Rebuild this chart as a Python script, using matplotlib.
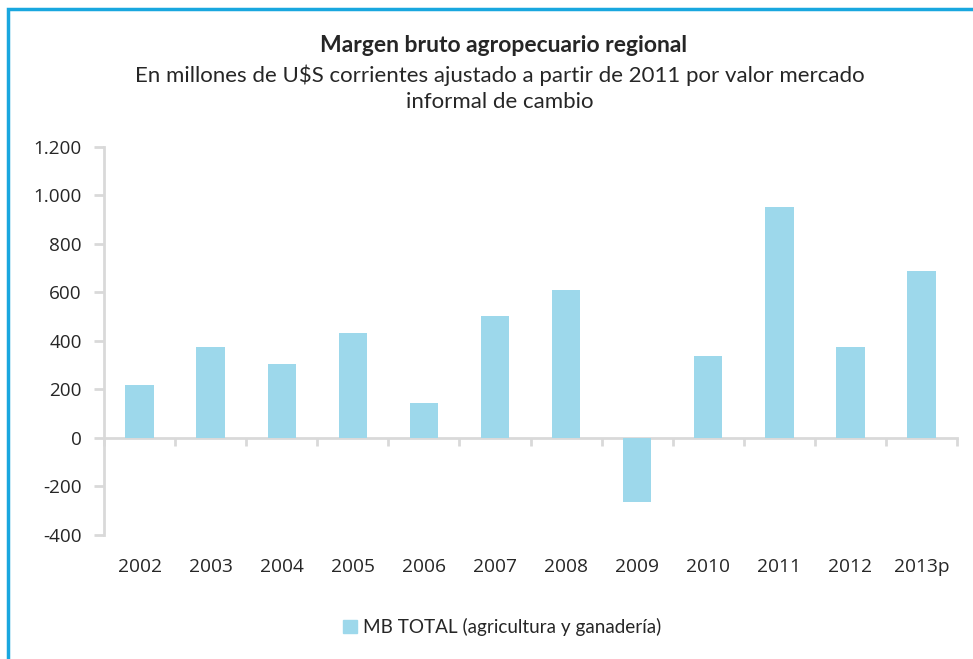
import matplotlib.pyplot as plt
from matplotlib.patches import Rectangle, Patch

years = ['2002', '2003', '2004', '2005', '2006', '2007', '2008', '2009',
         '2010', '2011', '2012', '2013p']
mb_total = [218, 375, 305, 433, 144, 503, 610, -264, 338, 953, 375, 689]
yticks = [-400, -200, 0, 200, 400, 600, 800, 1000, 1200]
ytick_labels = ['-400', '-200', '0', '200', '400', '600', '800', '1.000', '1.200']

bar_color = '#9dd8eb'
axis_color = '#d9d9d9'
text_color = '#262626'

fig = plt.figure(figsize=(9.73, 6.59), dpi=100)
ax = fig.add_axes([0.1069, 0.1882, 0.8767, 0.5888])

x = range(len(years))
ax.bar(x, mb_total, width=0.4, color=bar_color, zorder=3)
ax.set_xlim(-0.5, len(years) - 0.5)
ax.set_ylim(-400, 1200)

# y axis
ax.set_yticks(yticks)
ax.set_yticklabels(ytick_labels, fontsize=13.6, color=text_color, family='Open Sans')
ax.tick_params(axis='y', length=7, width=2, color=axis_color, pad=9)

# x axis at zero, ticks between categories
ax.spines['bottom'].set_position(('data', 0))
ax.set_xticks([i - 0.5 for i in range(len(years) + 1)])
ax.set_xticklabels([])
ax.tick_params(axis='x', direction='out', length=6, width=2, color=axis_color)
for i, yr in enumerate(years):
    ax.text(i, -530, yr, ha='center', va='center', fontsize=13.8,
            color=text_color, family='Open Sans')

for s in ['top', 'right']:
    ax.spines[s].set_visible(False)
for s in ['left', 'bottom']:
    ax.spines[s].set_color(axis_color)
    ax.spines[s].set_linewidth(2)

# titles
fig.text(0.517, 1 - 45 / 659, 'Margen bruto agropecuario regional', ha='center',
         va='center', fontsize=16.5, fontweight='bold', color=text_color, family='Lato')
fig.text(0.514, 1 - 75 / 659,
         'En millones de U$S corrientes ajustado a partir de 2011 por valor mercado',
         ha='center', va='center', fontsize=16, color=text_color, family='Lato')
fig.text(0.514, 1 - 102 / 659, 'informal de cambio', ha='center', va='center',
         fontsize=16, color=text_color, family='Lato')

# legend
leg = fig.legend(handles=[Patch(color=bar_color, label='MB TOTAL (agricultura y ganadería)')],
                 loc='center', bbox_to_anchor=(0.516, 1 - 627 / 659), frameon=False,
                 handlelength=0.75, handleheight=0.75, handletextpad=0.3,
                 prop={'family': 'Lato', 'size': 13.6})
for t in leg.get_texts():
    t.set_color(text_color)

# outer frame
fig.patches.append(Rectangle((8 / 973, -0.05), 1.1, 1 - 9 / 659 + 0.05,
                             transform=fig.transFigure, fill=False,
                             edgecolor='#19a7df', linewidth=2.5))

fig.savefig('out.png', dpi=100)
